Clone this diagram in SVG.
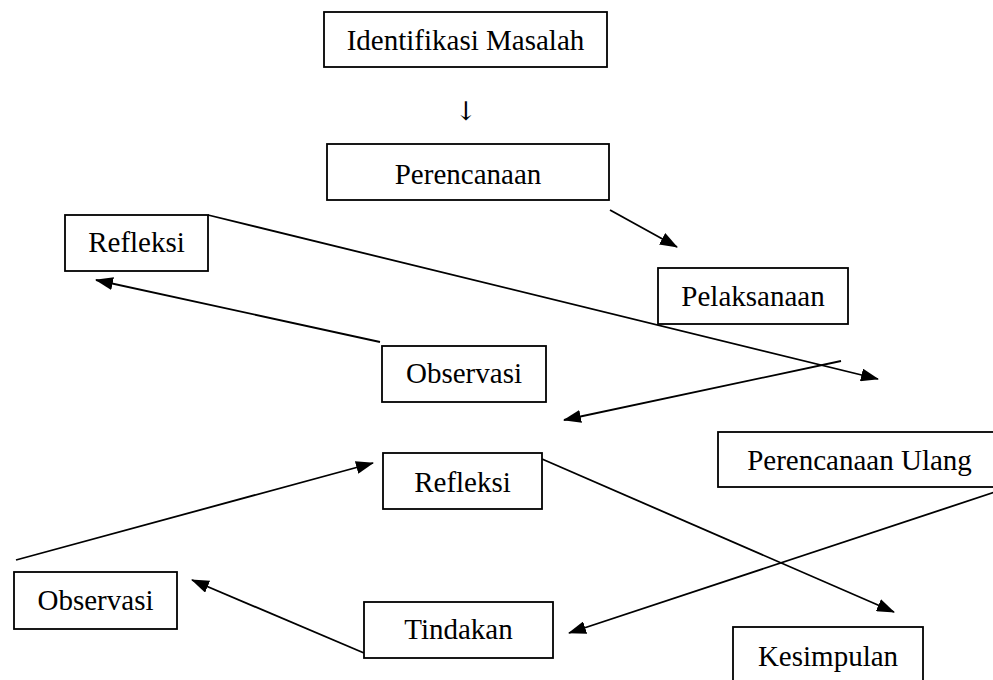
<svg xmlns="http://www.w3.org/2000/svg" width="993" height="680" viewBox="0 0 993 680">
<style>
.box{fill:#fff;stroke:#000;stroke-width:1.8}
.t{font-family:"Liberation Serif","Times New Roman",serif;font-size:29px;fill:#000;text-anchor:middle}
.arr{font-family:"DejaVu Serif","DejaVu Sans",serif;font-size:26px;fill:#000;text-anchor:middle}
.c{stroke:#000;stroke-width:1.8;fill:none;marker-end:url(#ah)}
</style>
<defs>
<marker id="ah" viewBox="0 0 18 13" refX="17" refY="6.5" markerWidth="18" markerHeight="13" markerUnits="userSpaceOnUse" orient="auto">
<path d="M0,0 L18,6.5 L0,13 z" fill="#000"/>
</marker>
</defs>
<rect width="993" height="680" fill="#fff"/>
<g id="connectors">
<path class="c" d="M610,210 L677,247"/>
<path class="c" d="M208,215 L878,379"/>
<path class="c" d="M841,361 L564,420"/>
<path class="c" d="M380,342 L96,280"/>
<path class="c" d="M16,560 L373,463"/>
<path class="c" d="M542,459 L894,612"/>
<path class="c" d="M995,492 L569,633"/>
<path class="c" d="M364,653 L192,580"/>
</g>
<g id="identifikasi"><rect class="box" x="324" y="12" width="283" height="55"/><text class="t" x="465.5" y="50">Identifikasi Masalah</text></g>
<g id="down-arrow"><text class="arr" x="466" y="120">↓</text></g>
<g id="perencanaan"><rect class="box" x="327" y="144" width="282" height="56"/><text class="t" x="468" y="184">Perencanaan</text></g>
<g id="refleksi1"><rect class="box" x="65" y="215" width="143" height="56"/><text class="t" x="136.5" y="252">Refleksi</text></g>
<g id="pelaksanaan"><rect class="box" x="658" y="268" width="190" height="56"/><text class="t" x="753" y="306">Pelaksanaan</text></g>
<g id="observasi1"><rect class="box" x="382" y="346" width="164" height="56"/><text class="t" x="464" y="383">Observasi</text></g>
<g id="perencanaan-ulang"><rect class="box" x="718" y="432" width="283" height="55"/><text class="t" x="859.5" y="470">Perencanaan Ulang</text></g>
<g id="refleksi2"><rect class="box" x="383" y="453" width="159" height="56"/><text class="t" x="462.5" y="492">Refleksi</text></g>
<g id="observasi2"><rect class="box" x="14" y="572" width="163" height="57"/><text class="t" x="95.5" y="610">Observasi</text></g>
<g id="tindakan"><rect class="box" x="364" y="602" width="189" height="56"/><text class="t" x="458.5" y="639">Tindakan</text></g>
<g id="kesimpulan"><rect class="box" x="733" y="627" width="190" height="60"/><text class="t" x="828" y="666">Kesimpulan</text></g>
</svg>
